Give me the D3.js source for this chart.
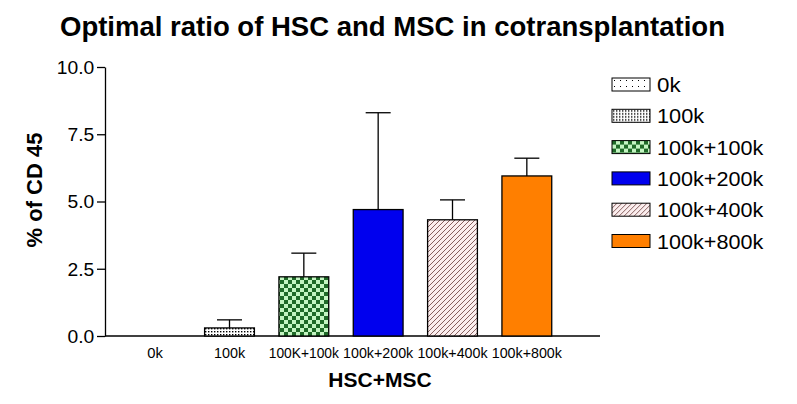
<!DOCTYPE html>
<html>
<head>
<meta charset="utf-8">
<script src="https://cdn.jsdelivr.net/npm/d3@7"></script>
<style>
  body { margin: 0; background: #fff; }
  text { font-family: "Liberation Sans", Arial, sans-serif; fill: #000; }
</style>
</head>
<body>
<div id="vis"></div>
<script>
// data
var categories = ["0k", "100k", "100K+100k", "100k+200k", "100k+400k", "100k+800k"];
var legendLabels = ["0k", "100k", "100k+100k", "100k+200k", "100k+400k", "100k+800k"];
var means = [0, 0.3, 2.2, 4.7, 4.32, 5.95];
var errors = [0, 0.3, 0.88, 3.6, 0.74, 0.66];
var fills = ["url(#p0)", "url(#p1)", "url(#p2)", "#0000ee", "url(#p4)", "#ff7f00"];
var yTicks = [0, 2.5, 5, 7.5, 10];

var width = 797, height = 404;
var margin = { top: 67, left: 105, bottom: 68, right: 197 };

var svg = d3.select("#vis").append("svg")
  .attr("width", width)
  .attr("height", height);

// patterns
var defs = svg.append("defs");

var p0 = defs.append("pattern").attr("id", "p0")
  .attr("patternUnits", "userSpaceOnUse").attr("width", 6).attr("height", 6);
p0.append("rect").attr("width", 6).attr("height", 6).attr("fill", "#fff");
p0.append("rect").attr("x", 2).attr("y", 2).attr("width", 1).attr("height", 1).attr("fill", "#000");

var p1 = defs.append("pattern").attr("id", "p1")
  .attr("patternUnits", "userSpaceOnUse").attr("width", 3).attr("height", 3);
p1.append("rect").attr("width", 3).attr("height", 3).attr("fill", "#fff");
p1.append("rect").attr("x", 1).attr("y", 1).attr("width", 1.4).attr("height", 1.4).attr("fill", "#000");

var p2 = defs.append("pattern").attr("id", "p2")
  .attr("patternUnits", "userSpaceOnUse").attr("width", 8).attr("height", 8);
p2.append("rect").attr("width", 8).attr("height", 8).attr("fill", "#c4f5c2");
p2.append("rect").attr("width", 4).attr("height", 4).attr("fill", "#1f6a28");
p2.append("rect").attr("x", 4).attr("y", 4).attr("width", 4).attr("height", 4).attr("fill", "#1f6a28");

var p4 = defs.append("pattern").attr("id", "p4")
  .attr("patternUnits", "userSpaceOnUse").attr("width", 5).attr("height", 5);
p4.append("rect").attr("width", 5).attr("height", 5).attr("fill", "#fbeeee");
p4.append("path").attr("d", "M-1,6 L6,-1 M-1,1 L1,-1 M4,6 L6,4")
  .attr("stroke", "#6a3a3a").attr("stroke-width", 0.8);

var x = d3.scaleBand()
  .domain(categories)
  .range([118, 564])
  .paddingInner(0.33)
  .paddingOuter(0.165);

var y = d3.scaleLinear()
  .domain([0, 10])
  .range([height - margin.bottom, margin.top]);

var g = svg.append("g");

// title
svg.append("text")
  .attr("x", 60)
  .attr("y", 36)
  .attr("font-size", 27)
  .attr("font-weight", "bold")
  .attr("textLength", 665)
  .attr("lengthAdjust", "spacingAndGlyphs")
  .text("Optimal ratio of HSC and MSC in cotransplantation");

// y axis
var yAxis = g.append("g")
  .attr("transform", "translate(" + margin.left + ",0)")
  .call(d3.axisLeft(y).tickValues(yTicks).tickFormat(d3.format(".1f")).tickSize(8).tickSizeOuter(0));
yAxis.select(".domain").attr("stroke", "#000").attr("stroke-width", 1.3);
yAxis.selectAll(".tick line").attr("stroke", "#000").attr("stroke-width", 1.3);
yAxis.selectAll(".tick text")
  .attr("font-size", 18)
  .attr("font-family", "Liberation Sans, Arial, sans-serif")
  .attr("x", -10)
  .attr("dy", "0.36em")
  .attr("transform", "scale(1.07,1)")
  .attr("fill", "#000");

// x axis line
g.append("line")
  .attr("x1", margin.left).attr("x2", 600)
  .attr("y1", y(0)).attr("y2", y(0))
  .attr("stroke", "#000").attr("stroke-width", 1.3);

// x labels
g.selectAll(".xlab")
  .data(categories)
  .enter().append("text")
  .attr("class", "xlab")
  .attr("x", function (d) { return x(d) + x.bandwidth() / 2; })
  .attr("y", 358)
  .attr("text-anchor", "middle")
  .attr("font-size", 15)
  .attr("textLength", function (d) { return d.length * 7.8; })
  .attr("lengthAdjust", "spacingAndGlyphs")
  .text(function (d) { return d; });

// axis titles
svg.append("text")
  .attr("x", 380)
  .attr("y", 387)
  .attr("text-anchor", "middle")
  .attr("font-size", 21)
  .attr("font-weight", "bold")
  .text("HSC+MSC");

svg.append("text")
  .attr("transform", "translate(42,190) rotate(-90)")
  .attr("text-anchor", "middle")
  .attr("font-size", 22)
  .attr("font-weight", "bold")
  .text("% of CD 45");

// error bars
var err = g.selectAll(".err")
  .data(categories.map(function (c, i) { return { c: c, m: means[i], e: errors[i] }; })
    .filter(function (d) { return d.m > 0; }))
  .enter().append("g").attr("class", "err");
err.append("line")
  .attr("x1", function (d) { return x(d.c) + x.bandwidth() / 2; })
  .attr("x2", function (d) { return x(d.c) + x.bandwidth() / 2; })
  .attr("y1", function (d) { return y(d.m); })
  .attr("y2", function (d) { return y(d.m + d.e); })
  .attr("stroke", "#000").attr("stroke-width", 1.3);
err.append("line")
  .attr("x1", function (d) { return x(d.c) + x.bandwidth() / 2 - 12.5; })
  .attr("x2", function (d) { return x(d.c) + x.bandwidth() / 2 + 12.5; })
  .attr("y1", function (d) { return y(d.m + d.e); })
  .attr("y2", function (d) { return y(d.m + d.e); })
  .attr("stroke", "#000").attr("stroke-width", 1.3);

// bars
g.selectAll(".bar")
  .data(categories.map(function (c, i) { return { c: c, m: means[i], f: fills[i] }; })
    .filter(function (d) { return d.m > 0; }))
  .enter().append("rect")
  .attr("class", "bar")
  .attr("x", function (d) { return x(d.c); })
  .attr("y", function (d) { return y(d.m); })
  .attr("width", x.bandwidth())
  .attr("height", function (d) { return y(0) - y(d.m); })
  .attr("fill", function (d) { return d.f; })
  .attr("stroke", "#000")
  .attr("stroke-width", 1.3);

// legend
var legend = svg.append("g").attr("transform", "translate(612,78)");
var item = legend.selectAll(".item")
  .data(legendLabels)
  .enter().append("g")
  .attr("class", "item")
  .attr("transform", function (d, i) { return "translate(0," + (i * 31.3) + ")"; });
item.append("rect")
  .attr("width", 38)
  .attr("height", 13)
  .attr("fill", function (d, i) { return fills[i]; })
  .attr("stroke", "#000")
  .attr("stroke-width", 1);
item.append("text")
  .attr("x", 45)
  .attr("y", 14)
  .attr("font-size", 20)
  .attr("textLength", function (d) { return d.length * 11.8; })
  .attr("lengthAdjust", "spacingAndGlyphs")
  .text(function (d) { return d; });
</script>
</body>
</html>
